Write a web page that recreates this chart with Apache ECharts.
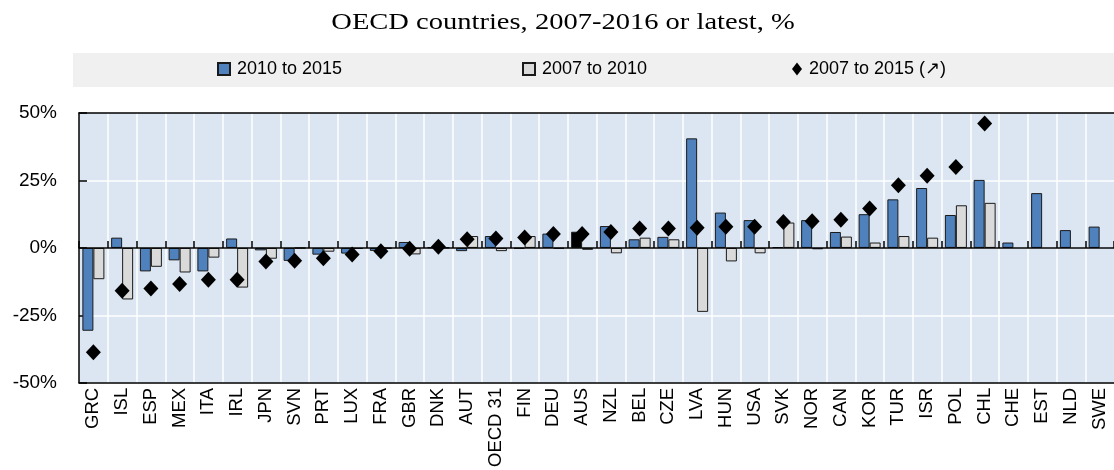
<!DOCTYPE html>
<html><head><meta charset="utf-8">
<script src="https://cdn.jsdelivr.net/npm/echarts@6/dist/echarts.min.js"></script>
<style>html,body{margin:0;padding:0;background:#fff}#c{width:1114px;height:470px}</style>
</head><body><div id="c"></div>
<script>
const countries = ['GRC','ISL','ESP','MEX','ITA','IRL','JPN','SVN','PRT','LUX','FRA','GBR','DNK','AUT','OECD 31','FIN','DEU','AUS','NZL','BEL','CZE','LVA','HUN','USA','SVK','NOR','CAN','KOR','TUR','ISR','POL','CHL','CHE','EST','NLD','SWE'];
const change2010to2015 = [-30.7,3.8,-8.7,-4.6,-8.7,3.5,-0.9,-4.8,-2.5,-2.1,-1.1,2.2,0.2,-1.2,4.4,-0.3,5.3,6.0,8.1,3.2,4.1,40.6,13.1,10.3,0.3,10.3,5.9,12.5,18.0,22.2,12.2,25.2,2.0,20.3,6.6,7.9];
const change2007to2010 = [-11.6,-19.1,-7.0,-9.1,-3.6,-14.7,-4.0,-0.1,-1.4,-0.4,-0.2,-2.4,0.1,4.4,-1.2,4.4,-0.3,-0.7,-2.0,3.8,3.2,-23.7,-5.0,-2.0,9.4,-0.5,4.2,2.0,4.4,3.8,15.8,16.7,null,null,null,null];
const change2007to2015 = [-38.7,-15.9,-15.0,-13.4,-11.8,-11.8,-5.0,-4.8,-3.8,-2.4,-1.2,-0.3,0.4,3.2,3.5,3.9,5.2,5.2,5.9,7.2,7.2,7.5,7.8,7.8,9.6,9.9,10.4,14.6,23.2,26.7,30.0,46.1,null,null,null,null];
const highlighted = 'AUS';
const seriesNames = ['2010 to 2015','2007 to 2010','2007 to 2015 (\u2197)'];
const titleText = 'OECD countries, 2007-2016 or latest, %';

const sans = "'Liberation Sans',Arial,sans-serif";
const chart = echarts.init(document.getElementById('c'), null, {renderer:'canvas'});
const blueData = change2010to2015.map((v,i)=> countries[i]===highlighted ? {value:v, itemStyle:{color:'#000'}} : v);

const legendBase = {orient:'horizontal', top:60, padding:0, itemWidth:12, itemHeight:12,
  textStyle:{fontFamily:sans, fontSize:18, color:'#000', padding:[0,0,0,2]}};

chart.setOption({
  animation:false,
  graphic:[
    {type:'rect', shape:{x:73,y:53,width:1041,height:34}, style:{fill:'#f0f0f0'}, z:-10, silent:true},
    {type:'text', x:563, y:23, scaleX:1.24, style:{text:titleText, fontSize:23, fontFamily:"'Liberation Serif','Times New Roman',serif", fill:'#000', align:'center', verticalAlign:'middle'}, silent:true}
  ],
  legend:[
    Object.assign({}, legendBase, {left:217, data:[{name:seriesNames[0], icon:'rect'}]}),
    Object.assign({}, legendBase, {left:522, data:[{name:seriesNames[1], icon:'rect'}]}),
    Object.assign({}, legendBase, {left:792, itemWidth:10, itemHeight:13, data:[{name:seriesNames[2], icon:'diamond'}]})
  ],
  grid:{left:79, right:0, top:113, bottom:86, show:true, backgroundColor:'#dce6f2', borderWidth:0, containLabel:false},
  xAxis:[
    {type:'category', data:countries, position:'bottom',
     axisLine:{onZero:false, lineStyle:{color:'#000', width:1.5}},
     axisTick:{show:false},
     axisLabel:{interval:0, rotate:90, margin:5, fontFamily:sans, fontSize:18.5, color:'#000'},
     splitLine:{show:true, interval:0, showMinLine:false, showMaxLine:false, lineStyle:{color:'#fff', width:1.5}}},
    {type:'category', data:countries, position:'top', z:5,
     axisLine:{onZero:true, lineStyle:{color:'#000', width:1.5}},
     axisTick:{show:true, interval:0, length:7, lineStyle:{color:'#000', width:1.5}},
     axisLabel:{show:false}, splitLine:{show:false}},
    {type:'category', data:countries, position:'top',
     axisLine:{onZero:false, lineStyle:{color:'#000', width:1.5}},
     axisTick:{show:false}, axisLabel:{show:false}, splitLine:{show:false}}
  ],
  yAxis:{type:'value', min:-50, max:50, interval:25,
     axisLine:{show:true, lineStyle:{color:'#000', width:1.5}},
     axisTick:{show:true, inside:true, length:8, lineStyle:{color:'#000', width:1.5}},
     axisLabel:{formatter:'{value}%', margin:22, fontFamily:sans, fontSize:19, color:'#000'},
     splitLine:{show:true, showMinLine:false, showMaxLine:false, lineStyle:{color:'#fff', width:1.5}}},
  series:[
    {name:seriesNames[0], type:'bar', data:blueData, barWidth:11, barGap:'0%', xAxisIndex:0,
     itemStyle:{color:'#4f81bd', borderColor:'#1a1a1a', borderWidth:1}},
    {name:seriesNames[1], type:'bar', data:change2007to2010, barWidth:11, barGap:'0%', xAxisIndex:0,
     itemStyle:{color:'#dadada', borderColor:'#1a1a1a', borderWidth:1}},
    {name:seriesNames[2], type:'scatter', data:change2007to2015, symbol:'diamond', symbolSize:[15,16], xAxisIndex:0, z:6,
     itemStyle:{color:'#000', opacity:1}}
  ]
});
</script></body></html>
